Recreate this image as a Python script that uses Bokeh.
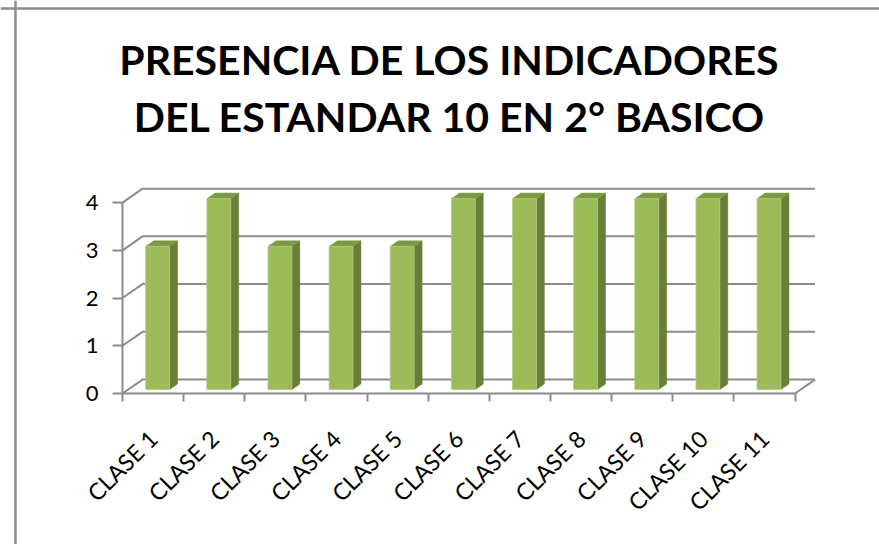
import math
from bokeh.plotting import figure
from bokeh.models import Range1d, FixedTicker, Span
from bokeh.core.properties import value
from bokeh.embed import file_html
from bokeh.resources import INLINE

# ---- data ----
categories = ["CLASE 1", "CLASE 2", "CLASE 3", "CLASE 4", "CLASE 5", "CLASE 6",
              "CLASE 7", "CLASE 8", "CLASE 9", "CLASE 10", "CLASE 11"]
values = [3, 4, 3, 3, 3, 4, 4, 4, 4, 4, 4]
y_ticks = [0, 1, 2, 3, 4]
title_lines = ["PRESENCIA DE LOS INDICADORES", "DEL ESTANDAR 10 EN 2° BASICO"]

# ---- layout / style ----
FONT = "Lato"
GRID = "#8c8c8c"
W, H = 879, 544                 # canvas size
SX, SY = 61.14, 47.73           # pixels per data unit
X0_PX, Y0_PX = 122, 393         # canvas position of data origin (from left / top)
DX, DY = 0.327, 0.292           # depth vector of the 3D box
BAR_D0 = 0.28                   # bar front at this depth fraction
BAR_DEPTH = 0.40                # bar depth fraction
BAR_L, BAR_R = 0.288, 0.678     # bar front-face extent inside a category
FRONT, SIDE, TOP = "#9BBB59", "#677F37", "#7C9A42"

n = len(categories)
x_range = Range1d(-X0_PX / SX, (W - X0_PX) / SX)
y_range = Range1d(-(H - Y0_PX) / SY, Y0_PX / SY)
p = figure(x_range=x_range, y_range=y_range,
           frame_width=W, frame_height=H,
           min_border=0, min_border_left=0, min_border_right=0,
           min_border_top=0, min_border_bottom=0,
           output_backend="svg", toolbar_location=None)
p.outline_line_color = None
p.xgrid.visible = False
p.ygrid.visible = False

# chart border (left and top edges visible in the crop)
p.add_layout(Span(location=x_range.start + 15 / SX, dimension="height",
                  line_color=GRID, line_width=2.5))
p.add_layout(Span(location=y_range.end - 8 / SY, dimension="width",
                  line_color=GRID, line_width=2.5))

# back wall + side wall gridlines
gx, gy = [], []
for v in y_ticks:
    gx.append([0, DX, n + DX])
    gy.append([v, v + DY, v + DY])
gx.append([n, n + DX])           # floor right edge
gy.append([0, DY])
p.multi_line(gx, gy, line_color=GRID, line_width=2)

# bars (3D faces)
ox, oy = BAR_D0 * DX, BAR_D0 * DY
sx, sy = BAR_DEPTH * DX, BAR_DEPTH * DY
fx, fy, sxs, sys_, tx, ty = [], [], [], [], [], []
for i, v in enumerate(values):
    L = i + BAR_L + ox
    R = i + BAR_R + ox
    b = oy
    t = v + oy
    fx.append([L, R, R, L]); fy.append([b, b, t, t])
    sxs.append([R, R + sx, R + sx, R]); sys_.append([b, b + sy, t + sy, t])
    tx.append([L, R, R + sx, L + sx]); ty.append([t, t, t + sy, t + sy])
p.patches(sxs, sys_, fill_color=SIDE, line_color=SIDE, line_width=0.5)
p.patches(tx, ty, fill_color=TOP, line_color=TOP, line_width=0.5)
p.patches(fx, fy, fill_color=FRONT, line_color="#AFCB78", line_width=0.8)

# x axis
xa = p.xaxis[0]
xa.fixed_location = 0
xa.ticker = FixedTicker(ticks=[i + 0.5 for i in range(n)], minor_ticks=list(range(n + 1)))
xa.major_label_overrides = {i + 0.5: c for i, c in enumerate(categories)}
xa.bounds = (0, n)
xa.axis_line_color = GRID
xa.axis_line_width = 2
xa.major_tick_out = 0
xa.major_tick_in = 0
xa.minor_tick_out = 8
xa.minor_tick_in = 0
xa.minor_tick_line_color = GRID
xa.minor_tick_line_width = 2
xa.major_label_orientation = math.pi / 4
xa.major_label_standoff = 33
xa.major_label_text_font = FONT
xa.major_label_text_font_size = "23px"
xa.major_label_text_color = "#000000"

# y axis
ya = p.yaxis[0]
ya.fixed_location = 0
ya.ticker = FixedTicker(ticks=y_ticks)
ya.bounds = (0, 4)
ya.axis_line_color = GRID
ya.axis_line_width = 2
ya.major_tick_out = 10
ya.major_tick_in = 0
ya.major_tick_line_color = GRID
ya.major_tick_line_width = 2
ya.minor_tick_out = 0
ya.minor_tick_in = 0
ya.major_label_standoff = 14
ya.major_label_text_font = FONT
ya.major_label_text_font_size = "22px"
ya.major_label_text_color = "#000000"

# title
p.text(x=[5.35, 5.35], y=[6.99, 5.80], text=title_lines,
       text_font=value(FONT), text_font_style="bold", text_font_size="41px",
       text_align="center", text_baseline="alphabetic", text_color="#000000")

open("out.html", "w").write(file_html(p, INLINE))
